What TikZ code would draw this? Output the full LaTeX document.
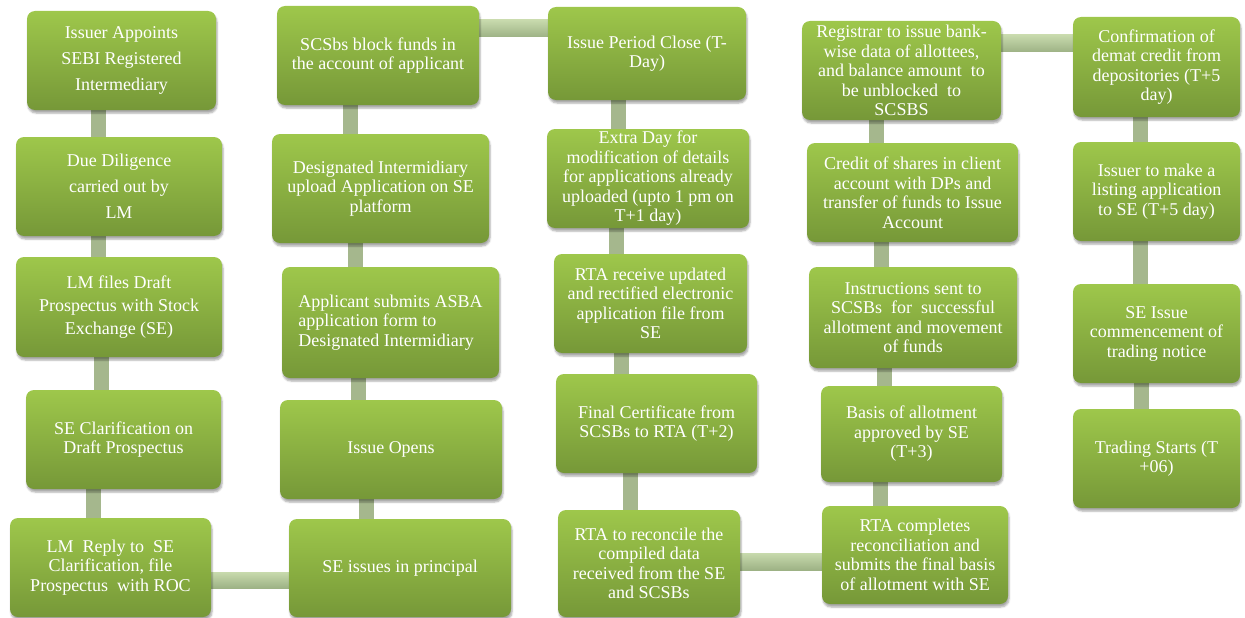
\documentclass[tikz,border=0pt]{standalone}
\usepackage{fontspec}
\setmainfont{Liberation Serif}
\usetikzlibrary{backgrounds,shadows.blur}

\definecolor{leaftop}{HTML}{9EC74B}
\definecolor{leafbot}{HTML}{769838}
\definecolor{stemcol}{HTML}{A5B78D}
\definecolor{bridgetop}{HTML}{C8DAAD}
\definecolor{bridgebot}{HTML}{9DB285}

\tikzset{
  stage/.style={rounded corners=8pt, top color=leaftop, bottom color=leafbot,
    text=white, align=center, inner sep=2pt,
    font=\fontsize{18}{19.5}\selectfont,
    blur shadow={shadow xshift=1pt, shadow yshift=-3pt, shadow opacity=35, shadow blur steps=5}},
  stem/.style={draw=stemcol, line width=15pt},
  bridge/.style={top color=bridgetop, bottom color=bridgebot}
}

\begin{document}
\begin{tikzpicture}[x=1pt, y=-1pt]
\useasboundingbox (0,0) rectangle (1245,618);

\node[stage, minimum width=189, minimum height=99, font=\fontsize{18}{26}\selectfont] (A1) at (121.5,60.5)
  {Issuer Appoints\\SEBI Registered\\Intermediary};
\node[stage, minimum width=206, minimum height=99, font=\fontsize{18}{26}\selectfont] (A2) at (119,186.5)
  {Due Diligence\\carried out by\\LM};
\node[stage, minimum width=206, minimum height=100, font=\fontsize{18}{23}\selectfont] (A3) at (119,307)
  {LM files Draft\\Prospectus with Stock\\Exchange (SE)};
\node[stage, minimum width=195, minimum height=99] (A4) at (123.5,439.5)
  {SE Clarification on\\Draft Prospectus};
\node[stage, minimum width=201, minimum height=99] (A5) at (110.5,567.5)
  {LM\ \ Reply to\ \ SE\\Clarification, file\\Prospectus\ \ with ROC};

\node[stage, minimum width=202, minimum height=99] (B1) at (378,55.5)
  {SCSbs block funds in\\the account of applicant};
\node[stage, minimum width=217, minimum height=109] (B2) at (380.5,188.5)
  {Designated Intermidiary\\upload Application on SE\\platform};
\node[stage, minimum width=217, minimum height=111, align=left] (B3) at (390.5,322.5)
  {Applicant submits ASBA\\application form to\\Designated Intermidiary};
\node[stage, minimum width=222, minimum height=99] (B4) at (391,449.5)
  {Issue Opens};
\node[stage, minimum width=222, minimum height=98] (B5) at (400,568)
  {SE issues in principal};

\node[stage, minimum width=198, minimum height=93] (C1) at (647,53.5)
  {Issue Period Close (T-\\Day)};
\node[stage, minimum width=202, minimum height=99] (C2) at (648,178.5)
  {Extra Day for\\modification of details\\for applications already\\uploaded (upto 1 pm on\\T+1 day)};
\node[stage, minimum width=193, minimum height=99] (C3) at (650.5,303.5)
  {RTA receive updated\\and rectified electronic\\application file from\\SE};
\node[stage, minimum width=201, minimum height=99] (C4) at (656.5,423.5)
  {Final Certificate from\\SCSBs to RTA (T+2)};
\node[stage, minimum width=182, minimum height=107] (C5) at (649,563.5)
  {RTA to reconcile the\\compiled data\\received from the SE\\and SCSBs};

\node[stage, minimum width=199, minimum height=99] (D1) at (901.5,70.5)
  {Registrar to issue bank-\\wise data of allottees,\\and balance amount\ \ to\\be unblocked\ \ to\\SCSBS};
\node[stage, minimum width=211, minimum height=99] (D2) at (912.5,192.5)
  {Credit of shares in client\\account with DPs and\\transfer of funds to Issue\\Account};
\node[stage, minimum width=208, minimum height=101] (D3) at (913,317.5)
  {Instructions sent to\\SCSBs\ \ for\ \ successful\\allotment and movement\\of funds};
\node[stage, minimum width=181, minimum height=96] (D4) at (911.5,434)
  {Basis of allotment\\approved by SE\\(T+3)};
\node[stage, minimum width=186, minimum height=98] (D5) at (915,555)
  {RTA completes\\reconciliation and\\submits the final basis\\of allotment with SE};

\node[stage, minimum width=167, minimum height=100] (E1) at (1156.5,67)
  {Confirmation of\\demat credit from\\depositories (T+5\\day)};
\node[stage, minimum width=167, minimum height=99] (E2) at (1156.5,191.5)
  {Issuer to make a\\listing application\\to SE (T+5 day)};
\node[stage, minimum width=167, minimum height=99] (E3) at (1156.5,333.5)
  {SE Issue\\commencement of\\trading notice};
\node[stage, minimum width=167, minimum height=99] (E4) at (1156.5,458.5)
  {Trading Starts (T\\+06)};

\begin{scope}[on background layer]
\foreach \a/\b/\x in {A1/A2/98, A2/A3/98, A3/A4/101, A4/A5/93,
                      B1/B2/350, B2/B3/355, B3/B4/358, B4/B5/366,
                      C1/C2/618, C2/C3/616, C3/C4/621, C4/C5/630,
                      D1/D2/876, D2/D3/881, D3/D4/884, D4/D5/880,
                      E1/E2/1140, E2/E3/1140, E3/E4/1141}
  \draw[stem] (\x,0 |- \a.south) -- (\x,0 |- \b.north);
\foreach \a/\b/\t/\u in {A5/B5/572/588, B1/C1/20/37, C5/D5/553/570, D1/E1/35/52}
  \path[bridge] (\a.east |- 0,\t) rectangle (\b.west |- 0,\u);
\end{scope}
\end{tikzpicture}
\end{document}
